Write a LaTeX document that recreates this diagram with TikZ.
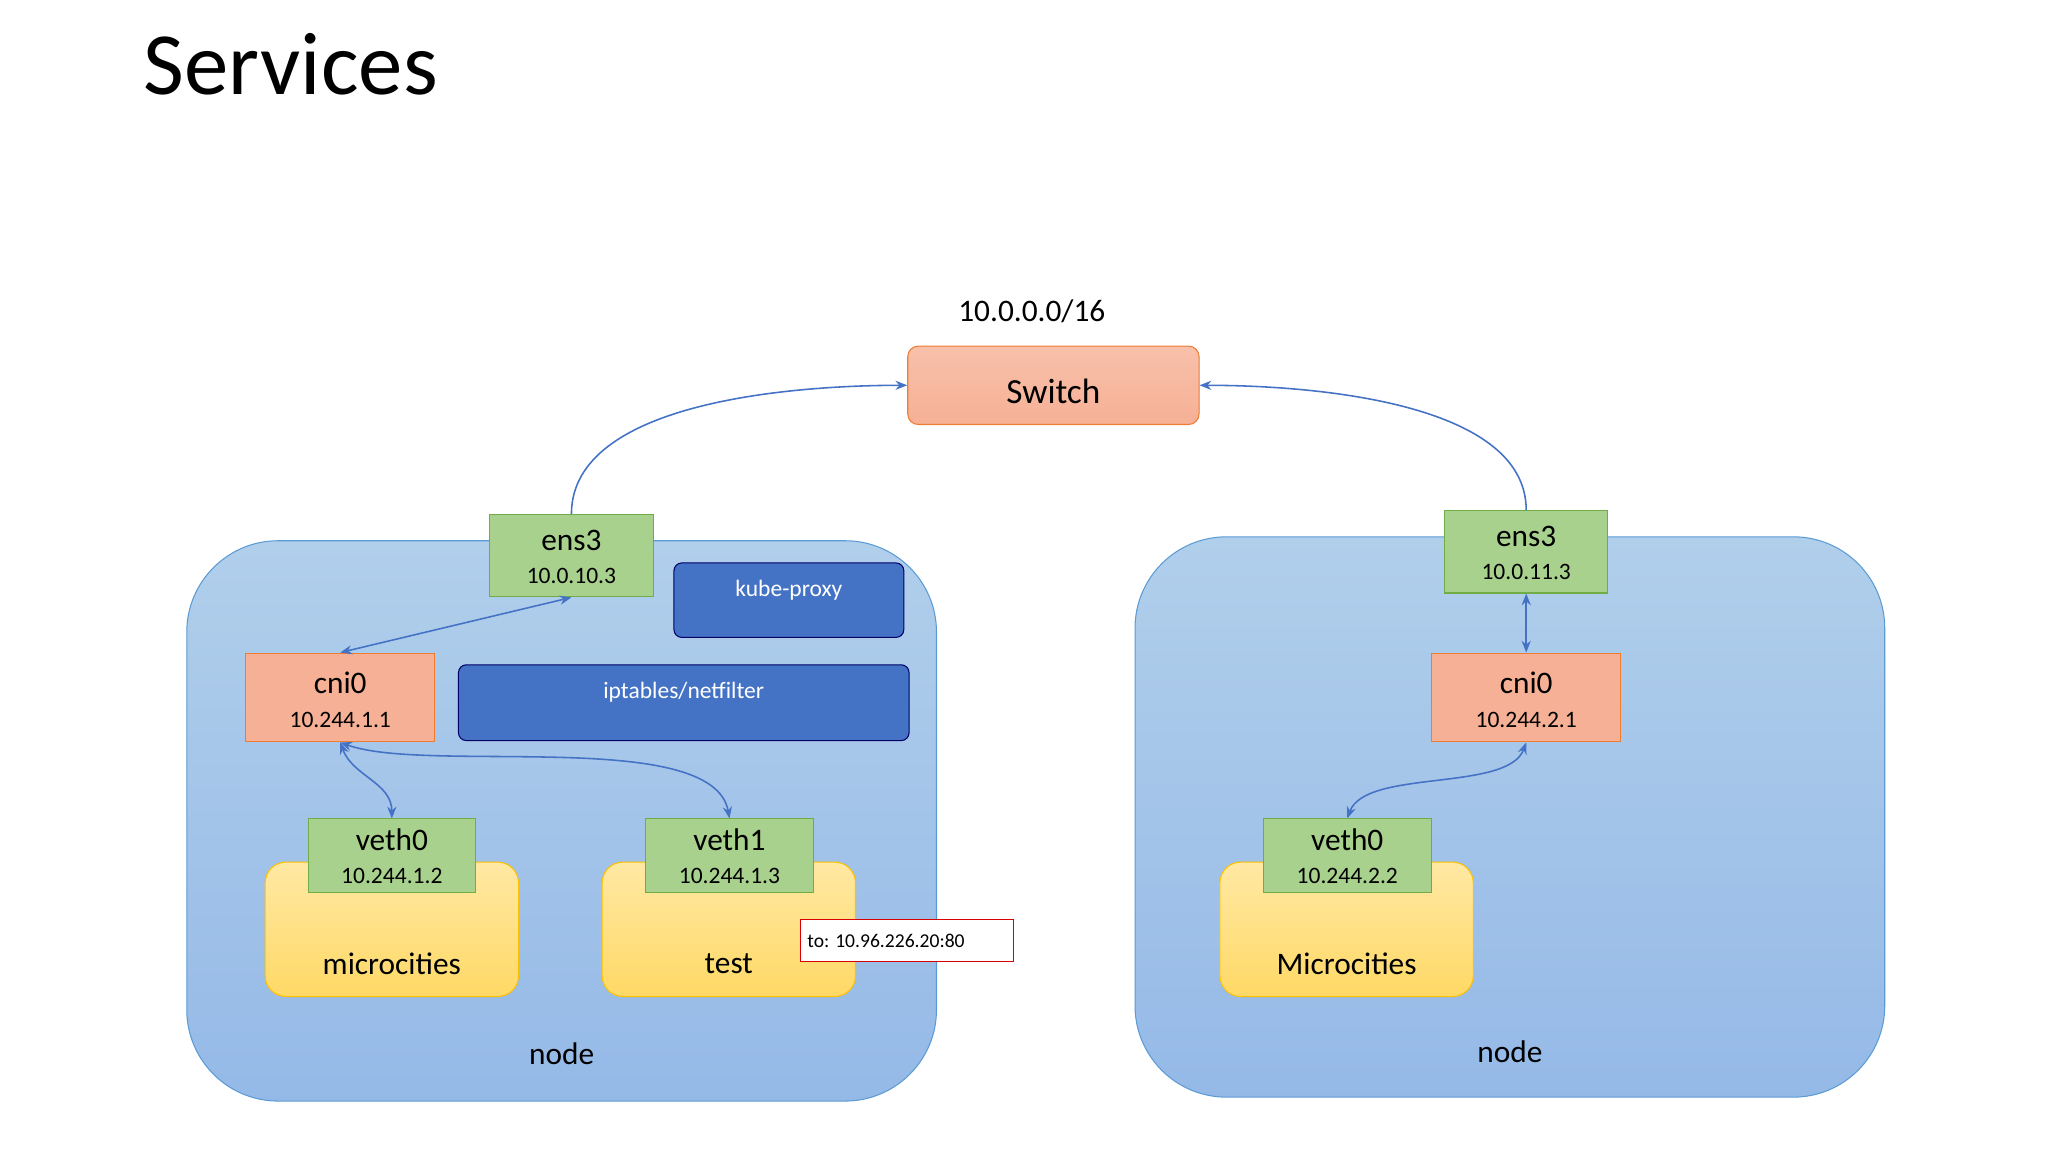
\documentclass[tikz,border=0pt]{standalone}
\usepackage{fontspec}
\usetikzlibrary{arrows.meta}
\setmainfont{Carlito}
\begin{document}
\begin{tikzpicture}[x=1pt,y=-1pt,
  every node/.style={inner sep=0pt, align=center},
  f24/.style={font=\fontsize{24}{28}\selectfont},
  f18/.style={font=\fontsize{18}{21}\selectfont},
]
\definecolor{myblue}{HTML}{4472C4}
\definecolor{linkblue}{HTML}{4472C4}
\definecolor{nodeblue}{HTML}{9DC3E6}
\definecolor{nodeedge}{HTML}{5B9BD5}
\definecolor{sal}{HTML}{F6B095}
\definecolor{saledge}{HTML}{ED7D31}
\definecolor{gfill}{HTML}{A9D18E}
\definecolor{gedge}{HTML}{70AD47}
\definecolor{yfill}{HTML}{FFD966}
\definecolor{yedge}{HTML}{FFC000}
\tikzset{
  salmon/.style={draw=saledge, fill=sal, line width=0.8pt},
  grn/.style={draw=gedge, fill=gfill, line width=0.8pt},
  yel/.style={draw=yedge, top color=yfill!60!white, bottom color=yfill, line width=0.8pt, rounded corners=16pt},
  bign/.style={draw=nodeedge, top color=nodeblue!80!white, bottom color=nodeblue!95!blue, line width=0.8pt, rounded corners=70pt},
  bluebox/.style={draw=blue!40!black, fill=myblue, line width=0.8pt, rounded corners=6pt},
  conn/.style={draw=linkblue, line width=1.2pt, arrows={-}, >={Stealth[length=9pt,width=7pt]}},
}
\useasboundingbox (0,0) rectangle (1568,882);
\fill[white] (0,0) rectangle (1568,882);

\node[anchor=base west, font=\fontsize{68}{76}\selectfont] (title) at (110,72) {Services};
\node[f24] (net) at (790,238) {10.0.0.0/16};
\node[salmon, rounded corners=8pt, minimum width=223pt, minimum height=60pt, top color=sal!80!white, bottom color=sal] (sw) at (806.5,295) {};
\node[font=\fontsize{27}{30}\selectfont] at (806.5,300) {Switch};

% node boxes
\node[bign, minimum width=574pt, minimum height=429pt] (nodeL) at (430,628.5) {};
\node[bign, minimum width=574pt, minimum height=429pt] (nodeR) at (1156,625.5) {};
\node[f24] (nodeLt) at (430,807) {node};
\node[f24] (nodeRt) at (1156,805) {node};

% left
\node[grn, minimum width=125pt, minimum height=63pt] (ensL) at (437.5,425.5) {};
\node[f24] at (437.5,414) {ens3};
\node[f18] at (437.5,441) {10.0.10.3};
\node[bluebox, minimum width=176pt, minimum height=57pt] (kp) at (604,459.5) {};
\node[text=white, f18] at (604,452) {kube-proxy};
\node[bluebox, minimum width=345pt, minimum height=58pt] (ipt) at (523.5,538) {};
\node[text=white, f18] at (523.5,530) {iptables/netfilter};
\node[salmon, minimum width=145pt, minimum height=68pt] (cniL) at (260.5,534) {};
\node[f24] at (260.5,523) {cni0};
\node[f18] at (260.5,551) {10.244.1.1};

\node[yel, minimum width=194pt, minimum height=103pt] (podA) at (300,711.5) {};
\node[f24] at (300,738) {microcities};
\node[grn, minimum width=128pt, minimum height=56pt] (vethA) at (300,655) {};
\node[f24] at (300,643) {veth0};
\node[f18] at (300,671) {10.244.1.2};

\node[yel, minimum width=194pt, minimum height=103pt] (podB) at (558,711.5) {};
\node[f24] at (558,738) {test};
\node[grn, minimum width=129pt, minimum height=56pt] (vethB) at (558.5,655) {};
\node[f24] at (558.5,643) {veth1};
\node[f18] at (558.5,671) {10.244.1.3};

\node[draw=red!85!black, fill=white, line width=0.8pt, minimum width=163pt, minimum height=32pt] (to) at (694.5,720) {};
\node[anchor=west, font=\fontsize{15}{18}\selectfont] at (618,720) {to: 10.96.226.20:80};

% right
\node[grn, minimum width=125pt, minimum height=63pt] (ensR) at (1168.5,422.5) {};
\node[f24] at (1168.5,411) {ens3};
\node[f18] at (1168.5,438) {10.0.11.3};
\node[salmon, minimum width=145pt, minimum height=68pt] (cniR) at (1168.5,534) {};
\node[f24] at (1168.5,523) {cni0};
\node[f18] at (1168.5,551) {10.244.2.1};
\node[yel, minimum width=194pt, minimum height=103pt] (podC) at (1031,711.5) {};
\node[f24] at (1031,738) {Microcities};
\node[grn, minimum width=129pt, minimum height=56pt] (vethC) at (1031.5,655) {};
\node[f24] at (1031.5,643) {veth0};
\node[f18] at (1031.5,671) {10.244.2.2};

% connectors
\draw[conn,->] (ensL.north) to[out=90,in=180,looseness=0.8] (sw.west);
\draw[conn,->] (ensR.north) to[out=90,in=0,looseness=0.8] (sw.east);
\draw[conn,<->] (ensL.south) -- (cniL.north);
\draw[conn,<->] (ensR.south) -- (cniR.north);
\draw[conn,<->] (cniL.south) to[out=-70,in=90,looseness=1] (vethA.north);
\draw[conn,<->] (cniL.south) to[out=-20,in=100,looseness=0.6] (vethB.north);
\draw[conn,<->] (cniR.south) to[out=-110,in=70,looseness=0.7] (vethC.north);
\end{tikzpicture}
\end{document}
